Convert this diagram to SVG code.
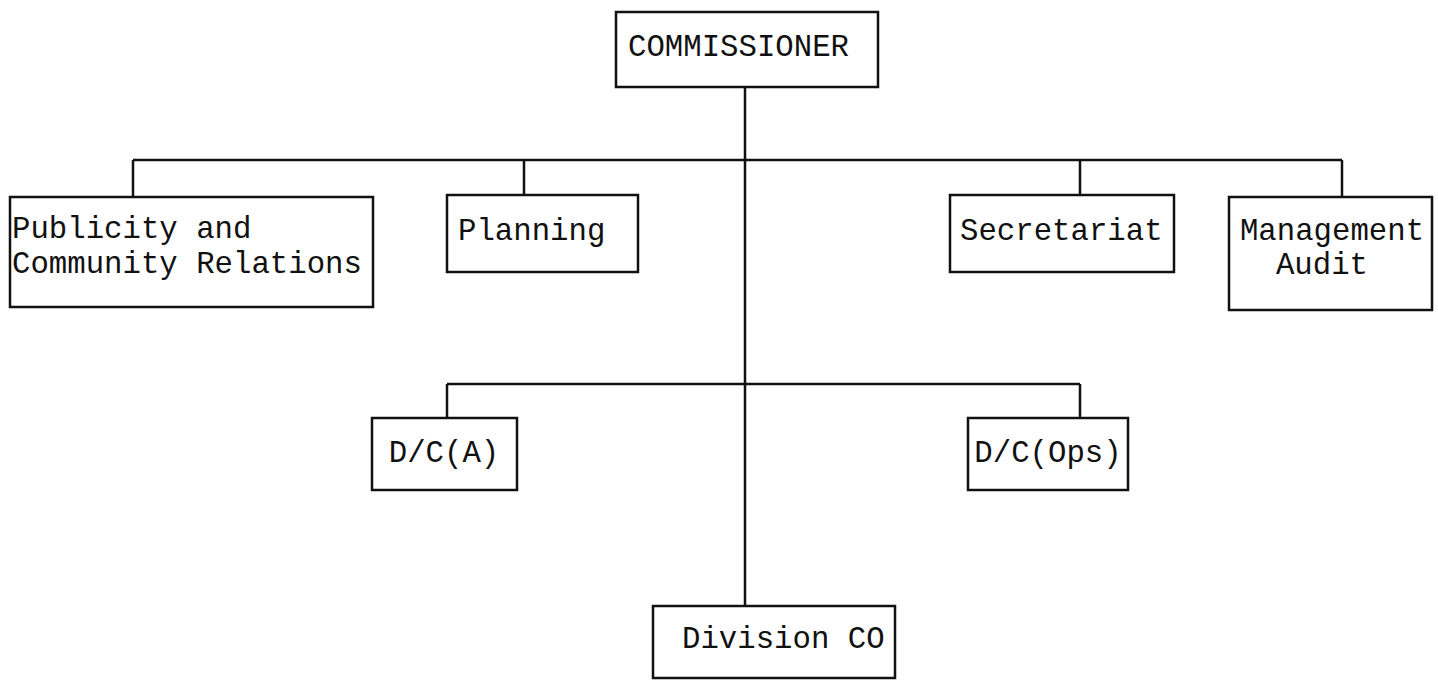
<svg xmlns="http://www.w3.org/2000/svg" width="1438" height="680" viewBox="0 0 1438 680">
<style>
.box{fill:#fff;stroke:#111;stroke-width:2.5}
.ln{stroke:#111;stroke-width:2.5;fill:none}
text{font-family:"Liberation Mono","DejaVu Sans Mono",monospace;font-size:30.7px;fill:#111}
</style>
<rect width="1438" height="680" fill="#fff"/>
<g id="connectors">
<line class="ln" x1="745" y1="87" x2="745" y2="606"/>
<line class="ln" x1="133" y1="160" x2="1342" y2="160"/>
<line class="ln" x1="133" y1="160" x2="133" y2="197"/>
<line class="ln" x1="524" y1="160" x2="524" y2="195"/>
<line class="ln" x1="1080" y1="160" x2="1080" y2="195"/>
<line class="ln" x1="1342" y1="160" x2="1342" y2="197"/>
<line class="ln" x1="447" y1="384" x2="1080" y2="384"/>
<line class="ln" x1="447" y1="384" x2="447" y2="418"/>
<line class="ln" x1="1080" y1="384" x2="1080" y2="418"/>
</g>
<g id="commissioner"><rect class="box" x="616" y="12" width="262" height="75"/><text x="628" y="56">COMMISSIONER</text></g>
<g id="publicity"><rect class="box" x="10" y="197" width="363" height="110"/><text x="12" y="238">Publicity and</text><text x="12" y="273">Community Relations</text></g>
<g id="planning"><rect class="box" x="447" y="195" width="191" height="77"/><text x="458" y="240">Planning</text></g>
<g id="secretariat"><rect class="box" x="950" y="195" width="224" height="77"/><text x="960" y="240">Secretariat</text></g>
<g id="audit"><rect class="box" x="1229" y="197" width="203" height="113"/><text x="1332" y="240" text-anchor="middle">Management</text><text x="1322" y="274" text-anchor="middle">Audit</text></g>
<g id="dca"><rect class="box" x="372" y="418" width="145" height="72"/><text x="444" y="462" text-anchor="middle">D/C(A)</text></g>
<g id="dcops"><rect class="box" x="968" y="418" width="160" height="72"/><text x="1048" y="462" text-anchor="middle">D/C(Ops)</text></g>
<g id="division"><rect class="box" x="653" y="606" width="242" height="72"/><text x="682" y="648">Division CO</text></g>
</svg>
